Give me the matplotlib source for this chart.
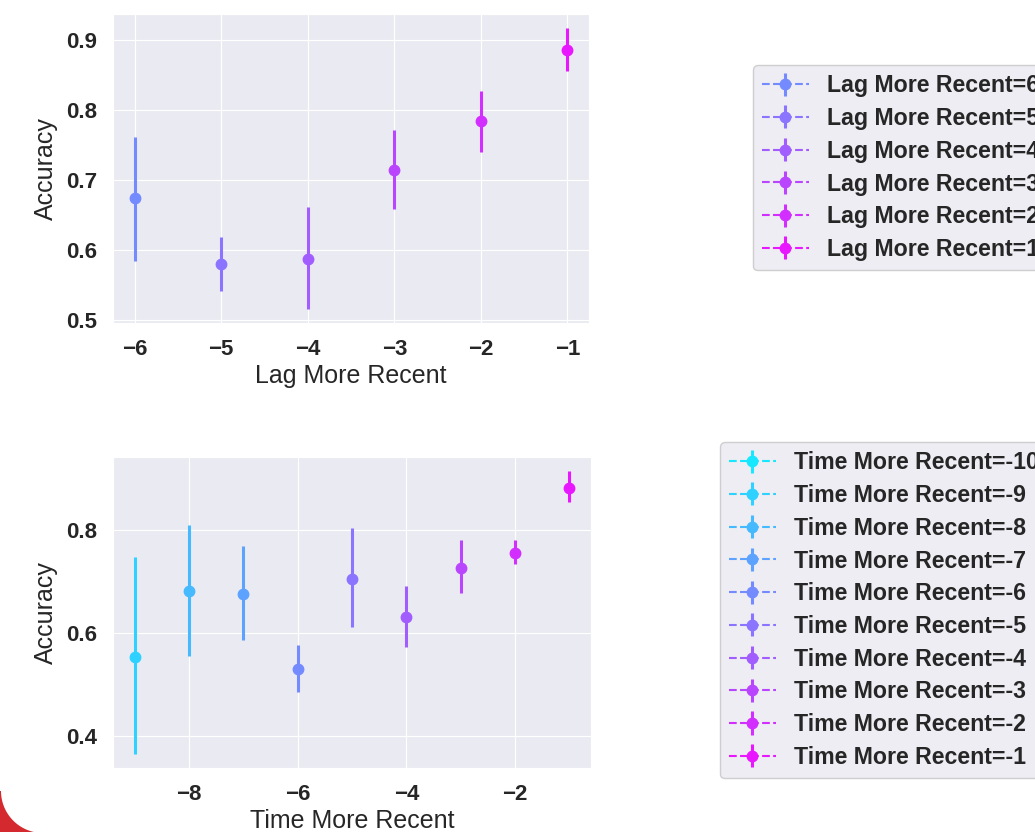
import numpy as np
import matplotlib
matplotlib.use("Agg")
import matplotlib.pyplot as plt
import seaborn as sns
from matplotlib.patches import Polygon
from matplotlib.ticker import MultipleLocator

# ---------------- data ----------------
lag_x = [-6, -5, -4, -3, -2, -1]
lag_values = [6, 5, 4, 3, 2, 1]
lag_acc = [0.674, 0.580, 0.588, 0.714, 0.784, 0.886]
lag_lo = [0.585, 0.542, 0.516, 0.659, 0.740, 0.856]
lag_hi = [0.762, 0.619, 0.661, 0.772, 0.827, 0.917]

time_x = [-10, -9, -8, -7, -6, -5, -4, -3, -2, -1]
time_acc = [np.nan, 0.553, 0.682, 0.676, 0.531, 0.705, 0.632, 0.727, 0.755, 0.883]
time_lo = [np.nan, 0.365, 0.556, 0.586, 0.486, 0.611, 0.572, 0.678, 0.735, 0.854]
time_hi = [np.nan, 0.748, 0.810, 0.769, 0.577, 0.804, 0.691, 0.781, 0.781, 0.915]

top_xlabel = "Lag More Recent"
bottom_xlabel = "Time More Recent"
ylabel = "Accuracy"

# ---------------- style ----------------
sns.set_style("darkgrid")
plt.rcParams['font.family'] = ['Liberation Sans', 'DejaVu Sans']
TXT = '#262626'

W, H = 1035, 832
fig = plt.figure(figsize=(W / 100, H / 100), dpi=100)
fig.patch.set_facecolor('white')

def fig_rect(l, t, r, b):
    return [l / W, 1 - b / H, (r - l) / W, (b - t) / H]

palette = sns.color_palette('cool', 10)

ax1 = fig.add_axes(fig_rect(113, 14, 589, 323))
ax2 = fig.add_axes(fig_rect(113, 457, 591, 768))

ms = 7.5
elw = 2.2

# top panel
for x, v, y, lo, hi in zip(lag_x, lag_values, lag_acc, lag_lo, lag_hi):
    c = palette[10 - v]
    ax1.errorbar([x], [y], yerr=[[y - lo], [hi - y]], fmt='--o', color=c,
                 markersize=ms, elinewidth=elw, capsize=0,
                 label=f"{top_xlabel}={v}")

# bottom panel
for i, (x, y, lo, hi) in enumerate(zip(time_x, time_acc, time_lo, time_hi)):
    c = palette[i]
    ax2.errorbar([x], [y], yerr=[[y - lo], [hi - y]], fmt='--o', color=c,
                 markersize=ms, elinewidth=elw, capsize=0,
                 label=f"{bottom_xlabel}={x}")

ax1.yaxis.set_major_locator(MultipleLocator(0.1))
ax1.xaxis.set_major_locator(MultipleLocator(1))
ax2.yaxis.set_major_locator(MultipleLocator(0.2))
ax2.xaxis.set_major_locator(MultipleLocator(2))

for ax, xl in ((ax1, top_xlabel), (ax2, bottom_xlabel)):
    ax.set_xlabel(xl, fontsize=18, color=TXT, labelpad=3)
    ax.set_ylabel(ylabel, fontsize=18, color=TXT, labelpad=6)
    ax.tick_params(axis='both', labelsize=16, colors=TXT, pad=8)
    for lab in ax.get_xticklabels() + ax.get_yticklabels():
        lab.set_fontweight('bold')

leg_kw = dict(loc='upper left', frameon=True,
              prop={'weight': 'bold', 'size': 16.7},
              facecolor='#eaeaf2', edgecolor='#c8c8c8', framealpha=0.85,
              labelspacing=0.42, handlelength=2.0, borderpad=0.4,
              borderaxespad=0.0)

l1 = ax1.legend(bbox_to_anchor=(753 / W, 1 - 65 / H),
                bbox_transform=fig.transFigure, **leg_kw)
l2 = ax2.legend(bbox_to_anchor=(720 / W, 1 - 442 / H),
                bbox_transform=fig.transFigure, **leg_kw)
for l in (l1, l2):
    for t in l.get_texts():
        t.set_color(TXT)

# decorative red corner (slide background)
cx, cy, R = 43, 791, 42
arc = [(cx + R * np.cos(a), cy + R * np.sin(a)) for a in np.linspace(np.pi, np.pi / 2, 40)]
pts = [(-5, cy)] + arc + [(cx, H + 5), (-5, H + 5)]
pts_fig = [(px / W, 1 - py / H) for px, py in pts]
fig.patches.append(Polygon(pts_fig, closed=True, transform=fig.transFigure,
                           facecolor='#d42a2f', edgecolor='none', zorder=0))

fig.savefig('out.png', dpi=100)
